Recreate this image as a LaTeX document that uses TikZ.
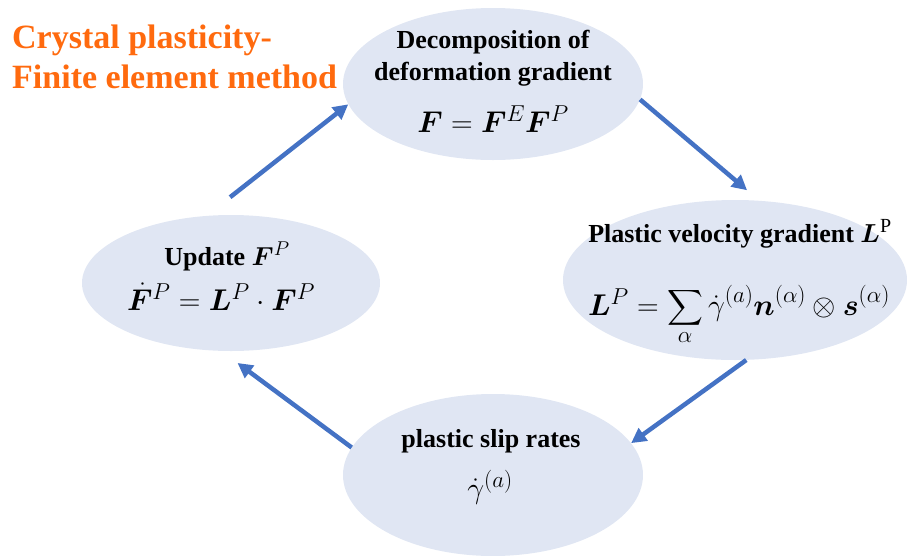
\documentclass[tikz,border=0pt]{standalone}
\usepackage{fix-cm}
\usepackage{amsmath,bm}
\usepackage{fontspec}
\setmainfont{Liberation Serif}
\DeclareMathSizes{30}{30}{23}{17}
\DeclareMathSizes{26}{26}{20}{15}
\usepackage{tikz}
\usetikzlibrary{arrows.meta,shapes.geometric,calc}
\definecolor{Blob}{HTML}{E0E6F3}
\definecolor{Flow}{HTML}{4472C4}
\definecolor{Title}{HTML}{FF6A0E}
\tikzset{
  blob/.style={ellipse,fill=Blob,draw=none,inner sep=0pt},
  lbl/.style={anchor=base,inner sep=0pt,font=\fontsize{26}{32}\selectfont\bfseries},
  eq/.style={anchor=base,inner sep=0pt,font=\fontsize{30}{36}\selectfont},
  flow/.style={-{Triangle[length=15pt,width=15pt]},line width=4.5pt,draw=Flow},
}

\begin{document}
\begin{tikzpicture}[x=1pt,y=-1pt]
\useasboundingbox (0,0) rectangle (921,555);
% the four stages
\node[blob,minimum width=300pt,minimum height=152pt] (dec) at (493,84) {};
\node[blob,minimum width=344pt,minimum height=160pt] (vel) at (735,280) {};
\node[blob,minimum width=300pt,minimum height=162pt] (slip) at (493,475) {};
\node[blob,minimum width=298pt,minimum height=136pt] (upd) at (231,283) {};
% texts
\node[lbl] (dec1) at (493,48) {Decomposition of};
\node[lbl] (dec2) at (493,80) {deformation gradient};
\node[eq] (deceq) at (493,132) {$\bm{F}=\bm{F}^{E}\bm{F}^{P}$};
\node[lbl] (vel1) at (740,242) {Plastic velocity gradient $\bm{L}^{\mathrm{P}}$};
\node[eq] (veleq) at (739,315) {$\bm{L}^{P}=\displaystyle\sum_{\alpha}\dot{\gamma}^{(a)}\bm{n}^{(\alpha)}\otimes\bm{s}^{(\alpha)}$};
\node[lbl] (slip1) at (491,447) {plastic slip rates};
\node[eq] (slipeq) at (490,498) {$\dot{\gamma}^{(a)}$};
\node[lbl] (upd1) at (227,265) {Update $\bm{F}^{P}$};
\node[eq] (updeq) at (221,310) {$\dot{\bm{F}}^{P}=\bm{L}^{P}\cdot\bm{F}^{P}$};
% cycle
\draw[flow,shorten <=30pt] (upd.110) -- (dec.188);
\draw[flow,shorten >=16pt] (dec.354) -- (vel.73);
\draw[flow] (vel.278) -- (slip.13);
\draw[flow,shorten >=20pt] (slip.169) -- (upd.262);
% title
\node[anchor=base west,inner sep=0pt,text=Title,font=\fontsize{34}{40}\selectfont\bfseries] (ttl1) at (12,48) {Crystal plasticity-};
\node[anchor=base west,inner sep=0pt,text=Title,font=\fontsize{34}{40}\selectfont\bfseries] (ttl2) at (12,88) {Finite element method};
\end{tikzpicture}
\end{document}
